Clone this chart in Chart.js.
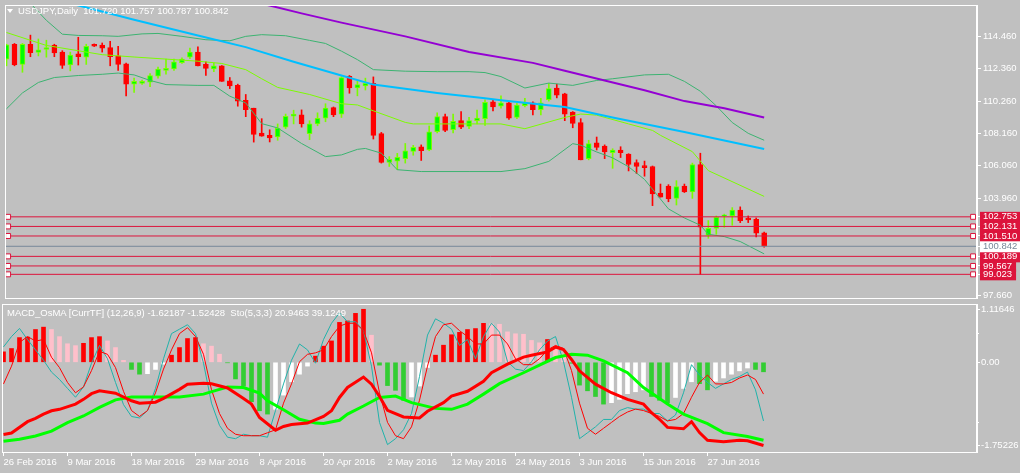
<!DOCTYPE html>
<html>
<head>
<meta charset="utf-8">
<title>USDJPY Daily</title>
<script src="https://cdn.jsdelivr.net/npm/chart.js@4.4.0/dist/chart.umd.min.js"></script>
<style>
  html, body { margin: 0; padding: 0; background: #c0c0c0; }
  #wrap { position: relative; width: 1020px; height: 473px; overflow: hidden; background: #c0c0c0; }
  #priceChart { position: absolute; left: 0; top: 0; }
  #oscChart { position: absolute; left: 0; top: 303px; }
  .hdr { position: absolute; color: #ffffff; font: 9.5px "Liberation Sans", Arial, sans-serif; line-height: 11px; white-space: pre; }
  .tri { position: absolute; left: 7px; top: 9px; width: 0; height: 0;
         border-left: 3px solid transparent; border-right: 3px solid transparent; border-top: 4px solid #ffffff; }
</style>
</head>
<body>
<div id="wrap">
  <canvas id="priceChart" width="1020" height="303"></canvas>
  <canvas id="oscChart" width="1020" height="170"></canvas>
  <div class="tri"></div>
  <div class="hdr" style="left:18px; top:5px;">USDJPY,Daily  101.720 101.757 100.787 100.842</div>
  <div class="hdr" style="left:7px; top:307px;">MACD_OsMA [CurrTF] (12,26,9) -1.62187 -1.52428  Sto(5,3,3) 20.9463 39.1249</div>
</div>
<script>
// ---- data (bar index 0 = 26 Feb 2016) ----
const tickLabels = ['26 Feb 2016', '9 Mar 2016', '18 Mar 2016', '29 Mar 2016', '8 Apr 2016', '20 Apr 2016',
  '2 May 2016', '12 May 2016', '24 May 2016', '3 Jun 2016', '15 Jun 2016', '27 Jun 2016'];
const tickStep = 8;

const open = [112.98, 113.95, 112.64, 113.95, 113.42, 113.61, 113.89, 113.44, 112.60, 113.32,
  113.11, 113.95, 113.89, 113.74, 113.19, 112.68, 111.36, 111.41, 111.49, 111.87,
  112.25, 112.34, 112.76, 113.11, 113.44, 112.64, 112.34, 112.55, 111.58, 111.28,
  110.31, 109.80, 108.19, 108.04, 107.93, 108.57, 109.29, 109.37, 108.15, 108.78,
  109.16, 109.84, 109.42, 111.87, 111.11, 111.24, 111.41, 108.15, 106.28, 106.37,
  106.53, 107.00, 107.30, 107.09, 108.27, 109.25, 108.40, 108.99, 108.61, 108.99,
  109.12, 110.22, 109.93, 110.14, 109.20, 109.97, 110.14, 109.71, 110.35, 111.11,
  110.73, 109.55, 108.87, 106.53, 107.55, 107.34, 106.91, 107.09, 106.83, 106.28,
  106.07, 106.02, 104.29, 104.75, 103.95, 104.75, 104.37, 106.15, 101.54, 102.00,
  102.81, 102.81, 103.19, 102.68, 102.59, 101.720];
const high = [113.95, 114.00, 114.00, 114.54, 114.29, 114.21, 113.95, 113.53, 113.44, 114.40,
  113.95, 113.97, 114.03, 114.14, 113.82, 112.72, 111.75, 111.62, 112.04, 112.47,
  112.98, 112.98, 113.06, 113.70, 113.78, 112.81, 112.72, 112.57, 111.79, 111.36,
  110.69, 109.80, 109.12, 108.40, 108.78, 109.42, 109.67, 109.69, 108.99, 109.50,
  110.09, 109.88, 111.85, 111.92, 111.54, 111.75, 111.83, 108.23, 106.66, 106.87,
  107.51, 107.39, 107.42, 108.65, 109.50, 109.42, 109.42, 109.58, 109.20, 109.67,
  110.35, 110.35, 110.60, 110.22, 110.14, 110.44, 110.22, 110.44, 111.41, 111.36,
  110.77, 109.58, 109.12, 107.72, 107.93, 107.42, 107.17, 107.30, 106.85, 106.45,
  106.37, 106.05, 104.88, 104.84, 105.10, 104.88, 106.24, 106.88, 102.51, 102.81,
  102.93, 103.35, 103.40, 102.81, 102.68, 101.757];
const low = [112.55, 112.55, 112.13, 113.14, 113.19, 113.11, 113.14, 112.38, 112.22, 112.60,
  112.64, 113.80, 113.44, 112.55, 112.25, 110.60, 110.82, 111.35, 111.20, 111.75,
  112.00, 112.25, 112.70, 113.02, 112.55, 111.92, 112.17, 111.54, 111.07, 109.93,
  109.25, 107.60, 107.98, 107.61, 107.72, 108.48, 108.78, 108.57, 107.76, 108.66,
  108.92, 109.25, 109.20, 110.77, 110.60, 110.98, 107.80, 106.24, 106.02, 105.81,
  106.24, 106.75, 106.41, 107.04, 108.19, 108.27, 108.19, 108.48, 108.48, 108.78,
  108.69, 109.63, 109.80, 109.07, 109.12, 109.88, 109.37, 109.37, 110.26, 110.47,
  108.99, 108.53, 106.45, 106.45, 107.09, 106.53, 105.90, 106.60, 105.73, 105.56,
  105.39, 103.48, 104.03, 103.73, 103.52, 104.33, 103.95, 99.023, 101.36, 101.62,
  102.08, 102.21, 102.38, 102.38, 101.45, 100.787];
const close = [113.91, 112.60, 113.95, 113.40, 113.59, 113.74, 113.38, 112.57, 113.25, 113.14,
  113.82, 113.82, 113.70, 113.14, 112.64, 111.36, 111.54, 111.54, 111.92, 112.34,
  112.38, 112.81, 112.98, 113.44, 112.55, 112.38, 112.55, 111.54, 111.24, 110.26,
  109.71, 108.10, 107.98, 107.87, 108.50, 109.27, 109.42, 108.78, 108.78, 109.14,
  109.80, 109.37, 111.79, 111.11, 111.33, 111.41, 108.04, 106.28, 106.49, 106.62,
  107.04, 107.26, 107.04, 108.27, 109.25, 108.36, 108.95, 108.57, 108.99, 109.16,
  110.18, 109.88, 110.14, 109.16, 110.01, 110.14, 109.71, 110.14, 111.07, 110.65,
  109.42, 108.82, 106.45, 107.51, 107.26, 106.96, 107.09, 106.91, 106.15, 106.02,
  105.94, 104.24, 104.03, 103.91, 104.71, 104.37, 106.15, 102.08, 102.00, 102.72,
  102.89, 103.19, 102.51, 102.55, 101.70, 100.842];

// indicator lines on the price panel, as [bar index, price]
const bbUpperPts = [[1, 117.2], [3, 116.6], [5, 115.5], [7, 114.6], [9, 114.52], [12, 114.5], [14, 114.46],
  [17, 114.62], [19, 114.65], [22, 114.46], [25, 114.24], [28, 114.17], [30, 114.46], [32, 114.57],
  [35, 114.5], [38, 114.2], [40, 114.0], [42, 113.5], [44, 112.95], [46, 112.3], [50, 112.2], [54, 112.17],
  [58, 112.17], [60, 112.11], [62, 111.85], [65, 111.11], [68, 111.43], [71, 111.28], [74, 111.6],
  [76, 111.71], [80, 111.96], [83, 112.0], [85, 111.54], [87, 110.9], [89, 109.95], [91, 108.87],
  [93, 108.17], [95, 107.72]];
const bbMiddlePts = [[0, 114.71], [5, 113.87], [12, 113.27], [16, 113.12], [24, 112.85], [27, 112.7],
  [30, 112.3], [32, 111.71], [34, 111.15], [38, 110.69], [42, 110.09], [44, 110.01], [46, 109.63],
  [50, 108.88], [51, 108.78], [62, 108.78], [65, 108.47], [70, 109.2], [72, 109.42], [74, 109.35],
  [78, 108.78], [81, 108.36], [82, 108.04], [86, 106.98], [88, 105.75], [95, 104.08]];
const bbLowerPts = [[0, 109.76], [2, 110.79], [4, 111.47], [6, 111.79], [9, 111.92], [12, 112.0], [14, 112.08],
  [16, 111.96], [18, 111.6], [20, 111.33], [24, 111.28], [26, 111.28], [28, 110.58], [30, 110.14],
  [32, 108.8], [34, 108.52], [37, 107.51], [40, 106.66], [42, 106.77], [44, 107.13], [45, 107.19],
  [47, 106.88], [49, 105.81], [52, 105.69], [58, 105.69], [62, 105.69], [65, 105.88], [68, 106.35],
  [71, 107.5], [72, 107.4], [74, 106.96], [76, 106.58], [78, 106.0], [80, 105.18], [83, 103.27],
  [85, 102.68], [87, 102.21], [88, 101.62], [90, 101.47], [92, 101.15], [95, 100.35]];
const maBluePts = [[8, 116.6], [16, 115.54], [24, 114.52], [30, 113.76], [36, 112.81], [42, 111.92],
  [46, 111.33], [54, 110.79], [60, 110.44], [62, 110.31], [70, 109.88], [76, 109.2], [85, 108.25],
  [95, 107.15]];
const maPurplePts = [[30, 116.81], [33, 116.46], [37, 115.95], [42, 115.35], [50, 114.46], [58, 113.44],
  [66, 112.74], [70, 112.23], [75, 111.6], [80, 110.96], [85, 110.26], [90, 109.79], [95, 109.2]];

const levels = [102.753, 102.131, 101.510, 100.189, 99.567, 99.023];
const bid = 100.842;
const priceTicks = [114.460, 112.360, 110.260, 108.160, 106.060, 103.960, 97.660];

// oscillator panel
const osma = [0.22, 0.29, 0.52, 0.53, 0.69, 0.74, 0.69, 0.54, 0.39, 0.35,
  0.40, 0.52, 0.54, 0.45, 0.31, 0.04, -0.15, -0.25, -0.24, -0.15,
  -0.04, 0.15, 0.31, 0.50, 0.52, 0.39, 0.34, 0.17, -0.01, -0.35,
  -0.50, -0.83, -1.02, -1.09, -0.99, -0.69, -0.41, -0.25, -0.08, 0.13,
  0.34, 0.45, 0.84, 0.87, 1.03, 1.116, 0.57, -0.06, -0.49, -0.59,
  -0.80, -0.73, -0.50, -0.11, 0.15, 0.36, 0.58, 0.63, 0.69, 0.71,
  0.82, 0.81, 0.80, 0.64, 0.60, 0.59, 0.46, 0.41, 0.48, 0.34,
  0.17, -0.02, -0.48, -0.60, -0.72, -0.88, -0.85, -0.78, -0.66, -0.62,
  -0.58, -0.72, -0.80, -0.85, -0.74, -0.55, -0.41, -0.45, -0.58, -0.40,
  -0.33, -0.25, -0.18, -0.12, -0.15, -0.20];
const macdMainPts = [[0, -1.52], [1, -1.49], [3, -1.25], [4, -1.18], [5, -1.09], [6, -1.02], [7, -0.99],
  [9, -0.88], [10, -0.78], [11, -0.66], [12, -0.60], [14, -0.65], [15, -0.73], [16, -0.81], [17, -0.86],
  [19, -0.84], [20, -0.76], [22, -0.57], [23, -0.46], [25, -0.44], [26, -0.45], [28, -0.54], [30, -0.76],
  [31, -0.88], [32, -1.16], [34, -1.43], [35, -1.35], [36, -1.31], [38, -1.28], [40, -1.14], [41, -1.02],
  [42, -0.74], [43, -0.53], [45, -0.31], [46, -0.46], [47, -0.72], [48, -1.01], [50, -1.15], [52, -1.17],
  [53, -1.03], [55, -0.85], [56, -0.71], [58, -0.61], [60, -0.40], [61, -0.22], [63, -0.04], [65, 0.11],
  [66, 0.15], [68, 0.22], [69, 0.32], [70, 0.27], [71, 0.06], [72, -0.18], [74, -0.46], [76, -0.64],
  [78, -0.78], [80, -0.88], [81, -1.06], [82, -1.20], [83, -1.37], [85, -1.40], [86, -1.25], [87, -1.48],
  [88, -1.64], [90, -1.67], [92, -1.64], [93, -1.65], [95, -1.75]];
const macdSignalPts = [[0, -1.66], [2, -1.62], [4, -1.55], [6, -1.45], [8, -1.27], [10, -1.13], [12, -0.95],
  [14, -0.79], [16, -0.73], [18, -0.73], [20, -0.73], [22, -0.73], [25, -0.67], [27, -0.57], [28, -0.52],
  [30, -0.53], [32, -0.65], [33, -0.81], [35, -1.0], [37, -1.2], [39, -1.28], [40, -1.29], [42, -1.22],
  [43, -1.09], [45, -0.92], [47, -0.74], [49, -0.71], [51, -0.85], [54, -0.97], [56, -0.99], [58, -0.88],
  [60, -0.67], [62, -0.45], [65, -0.22], [67, -0.06], [69, 0.10], [71, 0.17], [73, 0.15], [75, 0.03],
  [78, -0.22], [80, -0.53], [83, -0.88], [85, -1.09], [88, -1.29], [90, -1.48], [93, -1.56], [95, -1.64]];
const stochMain = [71, 78, 83.5, 76, 69, 62, 54, 49, 43, 37, 44, 60, 72, 63, 47, 32, 24, 23, 28, 43,
  63, 80, 83, 86, 80, 60, 33, 18, 10, 9, 12, 11, 11, 10, 28, 46, 62, 73, 69, 60,
  76, 87, 94, 88, 88, 82, 58, 20, 5, 9, 15, 26, 51, 79, 90, 87, 83, 72, 76, 63,
  78, 87, 81, 61, 56, 55, 61, 69, 75, 78, 61, 37, 9, 13, 17, 22, 22, 28, 30, 29,
  29, 26, 26, 21, 25, 40, 59, 52, 47, 43, 46, 49, 51, 54, 42, 20.9463];
const stochSignal = [46, 58, 74, 78, 75, 76, 64, 57, 47, 40, 44, 55, 68, 66, 57, 41, 28, 24, 28, 40,
  56, 69, 80, 84, 78, 66, 42, 26, 16, 12, 11, 11, 11, 13, 15, 33, 46, 61, 66, 67,
  69, 78, 85, 87, 87, 82, 67, 40, 20, 11, 9, 17, 35, 58, 78, 86, 87, 82, 78, 73,
  73, 79, 79, 73, 63, 59, 59, 63, 69, 72, 70, 55, 33, 16, 12, 16, 20, 24, 27, 29,
  28, 26, 24, 21, 22, 26, 37, 47, 52, 46, 46, 47, 50, 52, 49, 39.1249];
const oscTicks = [1.11646, 0, -1.75226];
const stochTicks = [80, 20];

// ---- look ----
const FONT = { family: 'Liberation Sans', size: 9.5, lineHeight: 1.05 };
const BULL = '#00ff00', BULL_EDGE = '#7cfc00', BEAR = '#ff0000';
const LEVEL = '#dc143c', BID = '#778899';
const X_MIN = -0.1875, X_MAX = 121.6875;   // 8 px per bar, bar 0 at x = 3.5

const idx = open.map((_, i) => i);
const pts = arr => arr.map(([x, y]) => ({ x, y }));
const isBull = i => close[i] >= open[i];

function fixAxis(width, height) {
  return scale => {
    if (width !== undefined) scale.width = width;
    if (height !== undefined) scale.height = height;
    scale.paddingTop = 0; scale.paddingBottom = 0;
    scale.paddingLeft = 0; scale.paddingRight = 0;
  };
}

const framePlugin = {
  id: 'frame',
  afterDraw(chart) {
    const { ctx, chartArea: a } = chart;
    ctx.save();
    ctx.strokeStyle = '#ffffff';
    ctx.lineWidth = 1;
    ctx.strokeRect(a.left + 0.5, a.top + 0.5, a.right - a.left - 1, a.bottom - a.top);
    ctx.restore();
  }
};

function lineSet(data, color, width, order, yAxisID) {
  return { type: 'line', data, borderColor: color, borderWidth: width, pointRadius: 0,
    tension: 0, order, yAxisID, parsing: false };
}

const levelSets = levels.map(v => ({
  type: 'line', data: [{ x: 0.2, y: v }, { x: 121.2, y: v }], borderColor: LEVEL, borderWidth: 1,
  pointStyle: 'rect', pointRadius: 3.5, pointBorderColor: LEVEL, pointBackgroundColor: '#ffffff',
  pointBorderWidth: 1, order: 0, yAxisID: 'y', parsing: false
}));

new Chart(document.getElementById('priceChart'), {
  type: 'bar',
  data: {
    datasets: [
      ...levelSets,
      { type: 'line', data: [{ x: X_MIN, y: bid }, { x: X_MAX, y: bid }], borderColor: BID, borderWidth: 1,
        pointRadius: 0, order: 0, yAxisID: 'y', parsing: false },
      lineSet(pts(maPurplePts), '#9400d3', 2, 1, 'y'),
      lineSet(pts(maBluePts), '#00bfff', 2, 1, 'y'),
      lineSet(pts(bbUpperPts), '#3cb371', 1, 1, 'y'),
      lineSet(pts(bbLowerPts), '#3cb371', 1, 1, 'y'),
      lineSet(pts(bbMiddlePts), '#7cfc00', 1, 1, 'y'),
      { label: 'body', data: idx.map(i => ({ x: i, y: [open[i], close[i]] })),
        backgroundColor: c => isBull(c.dataIndex) ? BULL : BEAR,
        borderColor: c => isBull(c.dataIndex) ? BULL_EDGE : BEAR,
        borderWidth: 1, borderSkipped: false, barThickness: 5, minBarLength: 1, grouped: false, order: 2 },
      { label: 'wick', data: idx.map(i => ({ x: i, y: [low[i], high[i]] })),
        backgroundColor: c => isBull(c.dataIndex) ? BULL_EDGE : BEAR,
        borderWidth: 0, barThickness: 1, grouped: false, order: 3 }
    ]
  },
  options: {
    responsive: false,
    animation: false,
    events: [],
    layout: { padding: { left: 2, top: 2, right: 0, bottom: 2 } },
    plugins: { legend: { display: false }, tooltip: { enabled: false } },
    scales: {
      x: { type: 'linear', min: X_MIN, max: X_MAX, offset: false, display: false },
      y: {
        position: 'right', min: 97.488, max: 116.494, beginAtZero: false,
        afterBuildTicks: s => { s.ticks = priceTicks.concat(levels, [bid]).map(v => ({ value: v })); },
        afterFit: fixAxis(43),
        border: { color: '#ffffff' },
        grid: { drawOnChartArea: false, tickLength: 4, tickColor: '#ffffff' },
        ticks: {
          autoSkip: false, padding: 2, font: FONT,
          callback: v => v.toFixed(3),
          color: c => c.tick && c.tick.value === bid ? BID : '#ffffff',
          showLabelBackdrop: c => !!c.tick && (levels.includes(c.tick.value) || c.tick.value === bid),
          backdropColor: c => c.tick && c.tick.value === bid ? '#ffffff' : LEVEL,
          backdropPadding: { top: 0, bottom: 1, left: 3, right: 4 }
        }
      }
    }
  },
  plugins: [framePlugin]
});

new Chart(document.getElementById('oscChart'), {
  type: 'bar',
  data: {
    datasets: [
      lineSet(pts(macdMainPts), '#ff0000', 3, 1, 'yMacd'),
      lineSet(pts(macdSignalPts), '#00ff00', 3, 2, 'yMacd'),
      lineSet(idx.map(i => ({ x: i, y: stochSignal[i] })), '#ff0000', 1, 3, 'yStoch'),
      lineSet(idx.map(i => ({ x: i, y: stochMain[i] })), '#20b2aa', 1, 4, 'yStoch'),
      { label: 'osma', data: idx.map(i => ({ x: i, y: osma[i] })), yAxisID: 'yMacd',
        backgroundColor: c => {
          const i = c.dataIndex, v = osma[i], prev = i > 0 ? osma[i - 1] : v;
          if (v >= 0) return v >= prev ? '#ff0000' : '#ffc0cb';
          return v < prev ? '#32cd32' : '#ffffff';
        },
        barThickness: 4, grouped: false, order: 5 }
    ]
  },
  options: {
    responsive: false,
    animation: false,
    events: [],
    layout: { padding: { left: 2, top: 1, right: 0, bottom: 0 } },
    plugins: { legend: { display: false }, tooltip: { enabled: false } },
    scales: {
      x: {
        type: 'linear', min: X_MIN, max: X_MAX, offset: false, position: 'bottom',
        afterBuildTicks: s => { s.ticks = tickLabels.map((_, k) => ({ value: k * tickStep })); },
        afterFit: fixAxis(undefined, 21),
        border: { color: '#ffffff' },
        grid: { drawOnChartArea: false, tickLength: 4, tickColor: '#ffffff', offset: false },
        ticks: { autoSkip: false, maxRotation: 0, align: 'start', padding: 1, color: '#ffffff', font: FONT,
          callback: v => tickLabels[Math.round(v / tickStep)] }
      },
      yStoch: {
        position: 'right', weight: 0, min: 0, max: 100,
        afterBuildTicks: s => { s.ticks = stochTicks.map(v => ({ value: v })); },
        afterFit: fixAxis(0),
        border: { display: false },
        grid: { drawOnChartArea: false, tickLength: 2, tickColor: '#ffffff' },
        ticks: { autoSkip: false, padding: 0, color: '#ffffff', font: FONT, callback: v => String(v) }
      },
      yMacd: {
        position: 'right', weight: 1, min: -1.888, max: 1.227, beginAtZero: false,
        afterBuildTicks: s => { s.ticks = oscTicks.map(v => ({ value: v })); },
        afterFit: fixAxis(43),
        border: { color: '#ffffff' },
        grid: { drawOnChartArea: false, tickLength: 3, tickColor: '#ffffff' },
        ticks: { autoSkip: false, padding: 1, color: '#ffffff', font: FONT,
          callback: v => v === 0 ? '0.00' : String(v) }
      }
    }
  },
  plugins: [framePlugin]
});
</script>
</body>
</html>
